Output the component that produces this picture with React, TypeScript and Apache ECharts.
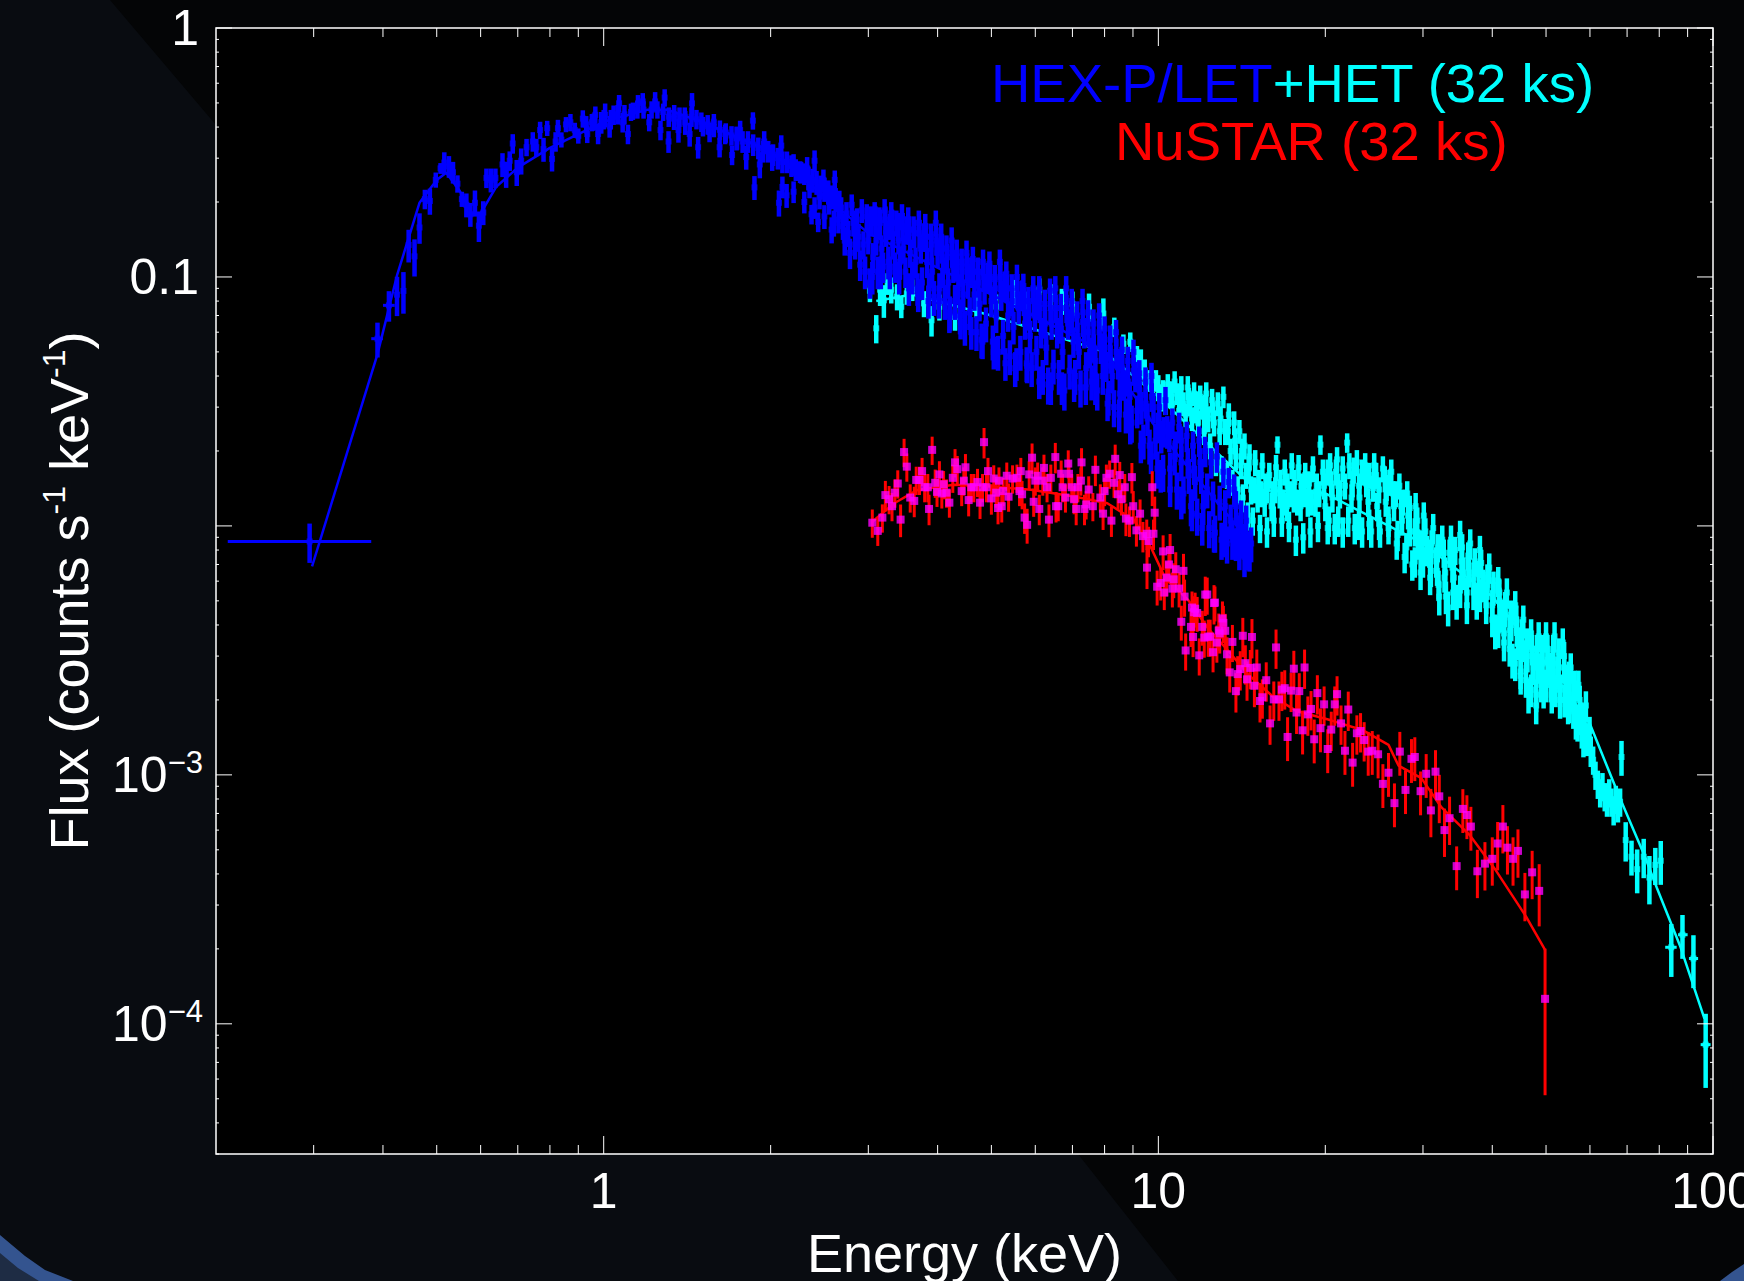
import React, { useEffect, useRef } from "react";
import * as echarts from "echarts";

const xMajorTicks = [1, 10, 100];
const xMinorTicks = [0.3, 0.4, 0.5, 0.6, 0.7, 0.8, 0.9, 2, 3, 4, 5, 6, 7, 8, 9, 20, 30, 40, 50, 60, 70, 80, 90];
const yMajorTicks = [1, 0.1, 0.01, 0.001, 0.0001];
const yMinorTicks = [0.9, 0.8, 0.7, 0.6, 0.5, 0.4, 0.3, 0.2, 0.09, 0.08, 0.07, 0.06, 0.05, 0.04, 0.03, 0.02, 0.009, 0.008, 0.007, 0.006, 0.005, 0.004, 0.003, 0.002, 0.0009, 0.0008, 0.0007, 0.0006, 0.0005, 0.0004, 0.0003, 0.0002, 0.00009, 0.00008, 0.00007, 0.00006, 0.00005, 0.00004, 0.00003];
const yTickLabels: Record<string, string> = { "0": "{p|1}", "-1": "{p|0.1}", "-3": "{b|10}{s|\u22123}", "-4": "{b|10}{s|\u22124}" };
const xTickLabels: Record<string, string> = { "0": "1", "1": "10", "2": "100" };

// [energy keV, flux, fractional error]
const letSoft = [
[.295,.00866,.18],[.391,.0565,.16],[.41,.0769,.14],[.424,.0849,.18],[.4355,.0879,.19],[.445,.1345,.15],[.456,.121,.17],[.4655,.158,.14],[.476,.2055,.09],[.486,.202,.12],[.498,.2455,.07],[.508,.273,.05],[.516,.288,.1],[.526,.278,.1],[.535,.2635,.1],[.545,.237,.08],[.555,.2055,.07],[.5655,.195,.11],[.575,.1786,.11],[.586,.1986,.12],[.5957,.1607,.14],[.6066,.1815,.11],[.6146,.25,.09],[.626,.2455,.11],[.638,.25,.09],[.657,.283,.11],[.667,.259,.12],[.677,.293,.09],[.6855,.3436,.09],[.697,.2635,.12],[.71,.293,.12],[.726,.332,.08],[.745,.35,.09],[.756,.332,.08],[.768,.389,.08],[.779,.326,.11],[.791,.396,.07],[.807,.298,.11],[.819,.35,.09],[.827,.396,.08],[.839,.356,.07],[.855,.41,.07],[.871,.418,.08],[.887,.389,.07],[.9,.369,.07],[.917,.4325,.08],[.934,.375,.08],[.952,.418,.08],[.966,.448,.08],[.977,.375,.09]
];
const letCore = [
[.99,.418,.1],[1.006,.448,.11],[1.025,.403,.1],[1.042,.448,.09],[1.066,.4983,.08],[1.082,.418,.09],[1.106,.375,.09],[1.129,.4645,.08],[1.153,.498,.08],[1.176,.507,.08],[1.208,.418,.08],[1.238,.507,.09],[1.266,.389,.09],[1.288,.5254,.08],[1.309,.35,.1],[1.339,.4325,.1],[1.364,.389,.11],[1.403,.418,.11],[1.429,.375,.11],[1.443,.498,.1],[1.48,.332,.1],[1.51,.403,.09],[1.552,.382,.09],[1.58,.418,.08],[1.618,.332,.09],[1.656,.375,.09],[1.704,.309,.09],[1.736,.362,.11],[1.762,.389,.09],[1.807,.303,.11],[1.858,.4246,.08],[1.87,.229,.11],[1.912,.283,.12],[1.947,.35,.1],[2.013,.303,.12],[2.07,.1986,.12],[2.09,.337,.1],[2.137,.2128,.11],[2.2,.283,.1],[2.27,.2635,.1],[2.327,.273,.11],[2.37,.1786,.09],[2.4,.293,.1],[2.436,.1663,.09],[2.49,.2455,.1],[2.576,.155,.12],[2.61,.2455,.09],
[.93,.41,.08],[.96,.42,.08],[1,.43,.09],[1.03,.43,.09],[1.06,.45,.09],[1.09,.45,.09],[1.12,.46,.08],[1.15,.47,.08],[1.18,.47,.08],[1.22,.47,.08],[1.25,.47,.08],[1.28,.46,.08],[1.31,.44,.09],[1.34,.45,.09],[1.37,.44,.09],[1.4,.44,.09],[1.44,.44,.09],[1.47,.43,.09],[1.5,.42,.09],[1.54,.41,.09],[1.58,.4,.09],[1.62,.39,.09],[1.66,.38,.09],[1.7,.37,.09],[1.74,.36,.1],[1.78,.35,.1],[1.82,.35,.1],[1.86,.34,.1],[1.9,.33,.1],[1.94,.32,.1],[1.98,.32,.1],[2.02,.31,.1],[2.06,.3,.1],[2.1,.29,.1],[2.14,.29,.1],[2.18,.28,.1],[2.22,.27,.1],[2.26,.265,.1],[2.3,.26,.1],[2.34,.25,.11],[2.38,.245,.11],[2.42,.24,.11],[2.46,.23,.11],[2.5,.225,.11],[2.54,.22,.11],[2.58,.21,.11],[2.62,.205,.11],[2.66,.2,.11],
[2.1,.23,.1],[2.2,.22,.1],[2.3,.2,.1],[2.35,.23,.1],[2.4,.19,.1],[2.45,.21,.11],[2.5,.175,.11],[2.55,.2,.11],[2.6,.165,.12],[2.65,.17,.12]
];
const letHard = [
[2.68,.19,.1],[2.7,.16,.12],[2.72,.14,.13],[2.74,.18,.11],[2.76,.15,.12],[2.78,.125,.14],[2.8,.195,.1],[2.82,.165,.12],[2.84,.135,.13],[2.86,.17,.11],[2.88,.145,.13],[2.9,.112,.14],[2.92,.185,.11],[2.94,.135,.13],[2.96,.105,.15],[2.98,.175,.12],[3,.14,.12],[3.02,.095,.14],[3.04,.165,.12],[3.06,.12,.14],[3.08,.18,.11],[3.1,.14,.13],[3.12,.105,.15],[3.14,.17,.12],[3.17,.13,.13],[3.19,.11,.14],[3.21,.185,.11],[3.23,.15,.12],[3.26,.115,.15],[3.28,.16,.12],
[3.3,.18,.11],[3.32,.135,.13],[3.35,.11,.14],[3.37,.165,.12],[3.4,.14,.12],[3.42,.115,.15],[3.45,.175,.12],[3.47,.13,.13],[3.5,.105,.14],[3.52,.155,.13],[3.54,.17,.12],[3.57,.125,.13],[3.6,.1,.15],[3.62,.155,.13],[3.65,.115,.14],[3.68,.09,.15],[3.7,.165,.12],[3.73,.13,.13],[3.75,.095,.15],[3.78,.145,.13],[3.8,.16,.12],[3.83,.115,.14],[3.86,.09,.15],[3.89,.145,.13],[3.91,.105,.14],[3.94,.083,.16],[3.97,.165,.12],[4,.125,.13],[4.03,.09,.15],
[4.06,.145,.13],[4.09,.105,.14],[4.12,.08,.16],[4.15,.13,.13],[4.18,.095,.14],[4.21,.072,.16],[4.24,.14,.13],[4.27,.11,.14],[4.3,.08,.16],[4.33,.125,.13],[4.36,.09,.14],[4.39,.07,.16],[4.42,.115,.13],[4.45,.085,.15],[4.48,.063,.16],[4.51,.125,.12],[4.54,.095,.14],[4.57,.072,.15],[4.6,.105,.14],[4.63,.118,.12],[4.66,.085,.14],[4.7,.06,.16],[4.73,.105,.14],[4.76,.078,.15],[4.8,.056,.16],[4.83,.115,.12],[4.86,.09,.14],[4.89,.065,.16],[4.93,.1,.14],
[4.96,.113,.12],[5,.08,.14],[5.03,.055,.16],[5.07,.098,.14],[5.1,.07,.15],[5.14,.05,.16],[5.18,.115,.12],[5.21,.085,.14],[5.25,.058,.16],[5.28,.092,.14],[5.32,.103,.12],[5.36,.07,.14],[5.4,.048,.16],[5.44,.09,.14],[5.48,.063,.15],[5.52,.043,.16],[5.56,.1,.12],[5.6,.075,.14],[5.64,.05,.16],[5.67,.085,.14],[5.71,.092,.12],[5.75,.065,.14],[5.79,.045,.16],[5.83,.08,.14],[5.87,.058,.15],[5.91,.043,.16],[5.95,.09,.12],[5.99,.07,.14],[6.03,.05,.16],[6.06,.078,.14],
[6.1,.09,.12],[6.15,.06,.14],[6.19,.04,.16],[6.24,.078,.14],[6.28,.052,.15],[6.33,.037,.17],[6.38,.088,.12],[6.42,.065,.14],[6.47,.044,.16],[6.52,.09,.12],[6.57,.06,.14],[6.62,.04,.16],[6.67,.075,.14],[6.72,.05,.15],[6.77,.035,.17],[6.82,.09,.12],[6.87,.065,.14],[6.92,.042,.16],[6.98,.08,.12],[7.03,.055,.14],[7.08,.04,.16],[7.14,.07,.14],[7.19,.05,.15],[7.24,.036,.17],[7.3,.08,.12],[7.35,.06,.14],[7.41,.043,.16],
[7.47,.072,.12],[7.53,.05,.14],[7.58,.038,.16],[7.64,.065,.14],[7.7,.046,.15],[7.76,.035,.17],[7.82,.07,.12],[7.88,.052,.14],[7.94,.04,.16],[8,.062,.12],[8.06,.044,.14],[8.13,.033,.16],[8.19,.056,.14],[8.26,.04,.15],[8.32,.03,.17],[8.39,.06,.12],[8.46,.045,.14],[8.52,.034,.16],[8.6,.051,.13],[8.67,.037,.14],[8.74,.028,.16],[8.81,.046,.14],[8.88,.033,.15],[8.95,.026,.17],[9.02,.05,.12],[9.09,.04,.14],
[9.16,.029,.15],[9.24,.041,.13],[9.32,.03,.15],[9.4,.022,.16],[9.48,.038,.14],[9.56,.027,.15],[9.64,.021,.16],[9.72,.04,.13],[9.8,.03,.14],[9.88,.022,.16],[9.96,.017,.17],[10.04,.03,.14],[10.12,.023,.15],[10.2,.0165,.17],[10.3,.032,.13],[10.38,.024,.15],[10.5,.017,.16],[10.6,.026,.14],[10.7,.019,.16],[10.8,.014,.17],[10.9,.025,.14],[11,.018,.16],[11.1,.0135,.17],
[11.25,.023,.14],[11.35,.016,.16],[11.45,.012,.17],[11.55,.021,.14],[11.65,.015,.16],[11.75,.011,.17],[11.85,.022,.14],[11.95,.016,.16],[12.05,.012,.16],[12.15,.02,.14],[12.25,.014,.16],[12.35,.0098,.17],[12.45,.018,.14],[12.55,.013,.16],[12.65,.0094,.17],[12.75,.019,.14],[12.9,.0125,.16],[13,.0088,.17],[13.1,.0165,.14],[13.2,.012,.16],[13.3,.0085,.17],[13.4,.015,.14],[13.5,.0105,.16],[13.6,.0088,.17],[13.7,.014,.15],
[13.8,.012,.15],[13.9,.0095,.16],[14,.008,.17],[14.1,.011,.15],[14.2,.0088,.16],[14.3,.0075,.17],[14.4,.0105,.15],[14.5,.0082,.16],[14.6,.0078,.16],[14.7,.0085,.16]
];
const letUpperFill = [
[3.03,.17,.13],[3.09,.17,.13],[3.15,.165,.13],[3.22,.17,.13],[3.31,.165,.13],[3.39,.16,.13],[3.46,.16,.13],[3.55,.155,.13],[3.63,.15,.13],[3.71,.15,.13],[3.81,.145,.13],[3.9,.135,.13],[3.98,.14,.13],[4.07,.13,.13],[4.16,.12,.13],[4.25,.125,.13],[4.34,.11,.13],[4.43,.105,.13],[4.52,.11,.13],[4.64,.105,.13],[4.74,.095,.13],[4.84,.1,.13],[4.97,.1,.13],[5.08,.09,.13],[5.19,.1,.13],[5.33,.09,.13],[5.45,.08,.13],[5.57,.085,.13],[5.72,.08,.13],[5.84,.07,.13],[5.96,.08,.13],[6.11,.075,.13],[6.25,.065,.13],[6.39,.075,.13],[6.53,.075,.13],[6.68,.062,.13],[6.83,.075,.13],[6.99,.068,.13],[7.15,.058,.13],[7.31,.066,.13],[7.48,.06,.13],[7.65,.052,.13],[7.83,.06,.13],[8.01,.052,.13],[8.2,.047,.13],[8.4,.05,.13],[8.61,.043,.13],[8.82,.038,.13],[9.03,.042,.13],[9.25,.035,.13],[9.49,.031,.13],[9.73,.033,.13],[9.97,.025,.14],[10.22,.024,.14],[10.47,.023,.14],[10.73,.021,.14],[11,.022,.14],[11.3,.018,.14],[11.6,.017,.14],[11.9,.018,.14]
];
const letLowerFill = [
[3.05,.1,.15],[3.16,.105,.15],[3.28,.105,.15],[3.41,.1,.15],[3.55,.09,.15],[3.69,.085,.15],[3.85,.08,.15],[4.02,.08,.15],[4.2,.07,.15],[4.4,.066,.15],[4.6,.06,.15],[4.82,.055,.15],[5.05,.05,.15],[5.3,.045,.15],[5.55,.045,.15],[5.8,.044,.15],[6.1,.038,.15],[6.4,.036,.15],[6.7,.036,.15],[7.05,.037,.15],[7.4,.036,.15],[7.7,.036,.15],[8.1,.031,.15],[8.5,.028,.15],[8.9,.025,.15],[9.3,.021,.15],[9.7,.019,.15],[10.1,.016,.15],[10.5,.014,.15],[11,.0125,.15],[11.5,.0112,.15],[12,.0098,.15],[12.6,.0092,.15],[13.2,.0088,.15],[13.8,.0085,.15],[14.4,.0078,.15]
];
const hetSoft = [
[3.02,.088,.1],[3.1,.0622,.13],[3.15,.0889,.14],[3.2,.0806,.15],[3.25,.0941,.1],[3.3,.0889,.12],[3.38,.0834,.12],[3.44,.0759,.1],[3.52,.0859,.1],[3.6,.0889,.1],[3.78,.0783,.12],[3.9,.067,.14],[4.03,.0759,.12],[4.3,.0691,.12],[4.7,.078,.12],[5.1,.076,.12],[5.5,.0862,.13],[5.8,.078,.12],[6.1,.0889,.11],[6.4,.0834,.12],[6.7,.08,.12],[7,.078,.12],[7.5,.0759,.13],[7.96,.0713,.15],[8.33,.063,.09],[8.65,.0539,.09],[8.9,.0549,.09],[9.15,.048,.1],[9.3,.0449,.14],[9.45,.042,.11],[9.65,.0384,.1],[9.9,.0384,.1]
];
const hetBand = [
[10,.036,.12],[10.1,.032,.1],[10.2,.035,.1],[10.3,.031,.1],[10.4,.037,.1],[10.5,.033,.1],[10.6,.031,.1],[10.7,.038,.1],[10.8,.034,.1],[10.9,.029,.1],[11,.036,.11],[11.1,.031,.11],[11.2,.028,.11],[11.3,.036,.11],[11.4,.031,.11],[11.5,.027,.11],[11.6,.034,.11],[11.7,.029,.11],[11.8,.026,.12],[11.9,.033,.11],[12,.03,.11],[12.1,.024,.12],[12.2,.034,.11],[12.3,.027,.12],[12.4,.021,.12],[12.5,.032,.11],[12.6,.026,.12],[12.7,.018,.12],[12.8,.031,.11],[12.9,.024,.12],[13,.017,.12],[13.1,.033,.1],[13.2,.024,.12],[13.3,.016,.12],[13.4,.028,.11],[13.5,.02,.12],[13.6,.015,.12],[13.7,.026,.11],[13.8,.019,.12],[13.9,.014,.13],[14,.024,.11],[14.1,.0175,.12],[14.2,.013,.13],[14.3,.021,.12],[14.4,.016,.12],[14.5,.011,.13],[14.6,.019,.12],[14.7,.014,.13],[14.8,.0105,.13],[14.95,.018,.12],[15.1,.013,.13],[15.25,.0098,.13],[15.4,.0175,.12],[15.55,.0125,.13],[15.7,.0095,.14],[15.85,.016,.12],[16,.012,.13],[16.15,.0105,.14],[16.3,.0172,.12],[16.4,.0212,.08],[16.55,.0135,.13],[16.7,.0105,.14],[16.9,.0165,.12],[17.05,.012,.13],[17.2,.01,.14],[17.4,.0175,.12],[17.55,.013,.13],[17.7,.0088,.14],[17.9,.0172,.12],[18.05,.012,.13],[18.25,.009,.14],[18.4,.016,.12],[18.6,.0125,.13],[18.8,.0095,.14],[19,.017,.12],[19.2,.0125,.13],[19.4,.01,.14],[19.6,.0212,.09],[19.8,.0165,.12],[20,.012,.13],[20.2,.0098,.14],[20.4,.0175,.12],[20.6,.013,.13],[20.8,.0098,.14],[21,.0185,.12],[21.25,.0135,.13],[21.5,.0095,.14],[21.9,.0216,.09],[22.1,.0175,.12],[22.3,.013,.13],[22.6,.0098,.14],[22.8,.018,.12],[23.05,.013,.13],[23.3,.0095,.14],[23.6,.0175,.12],[23.9,.0125,.13],[24.2,.0095,.14],[24.5,.0175,.12],[24.8,.012,.13],[25.1,.0095,.14],[25.4,.017,.12],[25.7,.0125,.13],[26,.0098,.14],[26.3,.0165,.12],[26.6,.012,.13],[26.9,.0085,.14],[27.2,.0145,.12],[27.5,.0105,.13],[27.8,.0075,.14],[28.1,.0135,.12],[28.4,.0095,.13],[28.7,.007,.14],[29.1,.012,.13],[29.4,.0085,.14],[29.7,.0065,.15]
];
const hetHard = [
[30.1,.011,.13],[30.5,.008,.14],[30.9,.0062,.15],[31.3,.0098,.14],[31.7,.0072,.14],[32.1,.0052,.16],[32.5,.0088,.14],[32.9,.0065,.15],[33.3,.0047,.16],[33.7,.0088,.14],[34.1,.0062,.15],[34.5,.005,.16],[35,.0092,.14],[35.5,.0065,.15],[36,.0048,.16],[36.5,.0085,.14],[37,.0062,.15],[37.5,.005,.16],[38,.008,.14],[38.5,.0058,.15],[39,.0048,.16],[39.5,.0068,.14],[40,.0048,.15],[40.5,.0038,.16],[41,.006,.14],[41.5,.0044,.15],[42,.0034,.16],[42.5,.0054,.14],[43,.0038,.15],[43.5,.0029,.16],[44,.0048,.14],[44.5,.0034,.15],[45,.0025,.16],[45.5,.0042,.14],[46,.003,.15],[46.5,.0021,.16],[47,.0037,.14],[47.5,.0027,.15],[48,.0019,.16],[48.5,.0036,.14],[49,.0026,.15],[49.5,.0022,.16],[50,.0036,.14],[50.6,.0027,.15],[51.2,.0021,.16],[51.8,.0036,.14],[52.4,.0026,.15],[53,.002,.16],[53.6,.0034,.14],[54.2,.0024,.15],[54.8,.0019,.16],[55.4,.0027,.14],[56,.0021,.15],[56.6,.00165,.16],[57.2,.0023,.14],[57.8,.0017,.15],[58.4,.0014,.16],[59,.0019,.14],[59.6,.0014,.15],[60.2,.00125,.14],[60.8,.00115,.13],[61.4,.001,.13],[62,.00092,.13],[62.6,.00085,.13],[63.2,.0009,.13],[63.8,.00082,.13],[64.4,.00078,.13],[65,.00085,.13],[65.6,.00078,.13],[66.2,.00072,.13],[66.8,.0008,.13],[67.4,.00074,.13],[68,.00078,.13],[68.4,.00118,.16],
[69.6,.000547,.18],[71.3,.000469,.16],[73,.000418,.2],[75,.000469,.18],[76.8,.000387,.22],[78.7,.000435,.17],[80.5,.000452,.2],[84.1,.000203,.24],[88.1,.000228,.2],[92.2,.000183,.24],[97,.0000825,.33]
];
const hetMidFill = [
[10.15,.033,.12],[10.55,.034,.12],[10.95,.033,.12],[11.35,.032,.12],[11.75,.031,.12],[12.15,.03,.12],[12.55,.028,.12],[12.95,.027,.12],[13.35,.024,.12],[13.75,.022,.12],[14.15,.02,.12],[14.55,.017,.12],[14.9,.014,.12],[15.3,.0135,.12],[15.7,.014,.12],[16.1,.0135,.12],[16.6,.015,.12],[17.1,.0145,.12],[17.6,.015,.12],[18.1,.0145,.12],[18.7,.0148,.12],[19.3,.0145,.12],[19.9,.0145,.12],[20.5,.0148,.12],[21.1,.0145,.12],[21.7,.0145,.12],[22.4,.0148,.12],[23,.0145,.12],[23.7,.0148,.12],[24.4,.0142,.12],[25,.014,.12],[25.8,.0143,.12],[26.5,.0135,.12],[27.4,.012,.12],[28.2,.011,.12],[29,.0095,.13],[29.9,.0085,.13],[30.8,.0078,.13],[31.8,.0066,.13],[32.8,.0062,.13],[33.9,.0068,.13],[35.2,.0072,.13],[36.3,.0065,.13],[37.8,.0064,.13],[39.2,.0058,.13],[40.2,.0055,.13],[41.2,.005,.13],[42.2,.0045,.13],[43.3,.004,.14],[44.3,.0038,.14],[45.3,.0033,.14],[46.3,.003,.14],[47.3,.0029,.14],[48.3,.0027,.14],[49.3,.0028,.14],[50.3,.0029,.14],[51.5,.0028,.14],[52.7,.0027,.14],[53.9,.0027,.14],[55,.0025,.14],[56.3,.0021,.14],[57.5,.002,.14],[58.7,.0017,.14],[59.9,.0015,.14]
];
const hetUpperFill = [
[15.15,.015,.12],[15.6,.0145,.12],[16.25,.014,.12],[16.8,.0125,.12],[17.3,.0135,.12],[17.8,.0125,.12],[18.3,.0135,.12],[18.9,.0125,.12],[19.5,.0135,.12],[20.2,.0165,.12],[20.9,.0165,.12],[21.5,.017,.12],[22.5,.0168,.12],[23.3,.0165,.12],[24,.016,.12],[24.7,.016,.12],[25.6,.0155,.12],[26.1,.015,.12],[26.8,.0135,.12],[27.6,.0125,.12],[28.4,.0118,.12],[29.3,.0105,.13],[30.3,.0095,.13],[31.1,.0085,.13],[31.9,.0082,.13],[32.7,.0078,.13],[33.5,.0078,.13],[34.3,.008,.13],[35.3,.0082,.13],[36.2,.0076,.13],[37.2,.0072,.13],[38.2,.0071,.13],[39.2,.0062,.13],[40.2,.0058,.13],[41.2,.0054,.13],[42.2,.0048,.13],[43.2,.0044,.14],[44.2,.0042,.14],[45.2,.0037,.14],[46.2,.0034,.14],[47.2,.0032,.14],[48.2,.0032,.14],[49.2,.0032,.14],[50.3,.0032,.14],[51.5,.0032,.14],[52.7,.0031,.14],[53.9,.003,.14],[55.1,.0024,.14],[56.3,.0023,.14]
];
const hetLowerFill = [
[20.3,.0105,.14],[21.1,.0105,.14],[22,.0105,.14],[23,.0102,.14],[24,.0102,.14],[25,.0102,.14],[26,.0105,.14],[27,.0092,.14],[28,.0082,.14],[29,.0072,.14],[30,.0072,.14],[31,.0066,.14],[32,.0058,.14],[33,.0052,.15],[34,.0054,.15],[35,.0055,.15],[36,.0054,.15],[37,.0054,.15],[38,.0053,.15],[39,.0052,.15],[40,.0042,.15],[41,.0038,.15],[42,.0037,.15],[43,.0032,.15],[44,.0028,.15],[45,.0026,.15],[46,.0024,.15],[47,.0022,.15],[48,.0021,.15],[49,.0023,.15],[50,.0023,.15],[51,.0023,.15],[52,.0022,.15],[53,.0022,.15],[54,.002,.15],[55,.0019,.15],[56,.0018,.15],[57,.0016,.15],[58,.0015,.15],[59,.0014,.15]
];
const nustarLow = [
[3.05,.0103,.13],[3.12,.00955,.13],[3.18,.0108,.13],[3.22,.0133,.14],[3.27,.0128,.13],[3.31,.012,.13],[3.35,.0136,.13],[3.39,.0148,.13],[3.43,.0106,.15],[3.48,.0198,.13],[3.52,.0173,.13],[3.57,.013,.13],[3.63,.0126,.14],[3.66,.0153,.13],[3.71,.0153,.13],[3.75,.0166,.13],[3.79,.0143,.13],[3.84,.0143,.13],[3.86,.0117,.14],[3.91,.0202,.13],[3.96,.0149,.13],[3.99,.0137,.13],[4.03,.0161,.13],[4.07,.0135,.13],[4.1,.0147,.13],[4.15,.0136,.13],[4.2,.0124,.13],[4.26,.0156,.13],[4.3,.018,.13],[4.34,.0169,.13],[4.42,.0138,.13],[4.46,.0152,.13],[4.49,.0172,.13],[4.55,.0127,.14],[4.6,.0143,.13],[4.65,.0143,.13],[4.72,.015,.13],[4.77,.0124,.14],[4.82,.0143,.13],[4.85,.0217,.14],[4.9,.0143,.13],[4.93,.0166,.13],[5,.0129,.14],[5.05,.0155,.13],[5.1,.0136,.13],[5.14,.0118,.14],[5.16,.0152,.13],[5.22,.012,.14],[5.25,.0138,.13],[5.33,.0159,.13],[5.37,.0131,.13],[5.46,.0155,.13],[5.56,.0156,.13],[5.62,.0138,.13],[5.65,.0166,.13],[5.68,.0134,.13],[5.74,.0108,.14],[5.8,.0101,.16],[5.85,.0161,.13],[5.92,.0188,.14],[5.96,.0125,.13],[6,.0152,.13],[6.06,.0159,.13],[6.1,.0117,.14],[6.19,.0152,.13],[6.22,.0171,.13],[6.3,.0143,.13],[6.35,.0106,.15],[6.4,.0156,.13],[6.52,.0189,.14],[6.54,.012,.14],[6.6,.012,.13],[6.68,.0162,.13],[6.72,.0143,.13],[6.8,.013,.13],[6.88,.0178,.13],[6.9,.0162,.13],[6.98,.0143,.13],[7.05,.0128,.13],[7.11,.0117,.14],[7.16,.0143,.13],[7.25,.0152,.13],[7.27,.018,.14],[7.36,.0117,.14],[7.41,.0122,.13],[7.49,.014,.13],[7.62,.012,.13],[7.7,.0168,.14],[7.86,.013,.13],[7.95,.0112,.14],[8,.0138,.13],[8.06,.0156,.13],[8.17,.0162,.13],[8.23,.0105,.14],[8.32,.0149,.13],[8.36,.0186,.14],[8.46,.0134,.13],[8.52,.016,.13],[8.58,.0128,.14],[8.7,.0143,.13],[8.74,.0107,.15],[8.87,.0105,.14],[8.96,.0157,.14],[9.01,.012,.15],[9.13,.0096,.14],[9.27,.0112,.14],[9.38,.0091,.14],[9.53,.0093,.14],[9.54,.0068,.18],[9.6,.0087,.14],[9.75,.0143,.16],[9.8,.0093,.14],[9.85,.0113,.16]
];
const nustarMid = [
[9.95,.0057,.16],[10.1,.0059,.15],[10.2,.0079,.16],[10.25,.0054,.15],[10.35,.0062,.16],[10.45,.007,.16],[10.5,.008,.16],[10.6,.0056,.16],[10.66,.0061,.16],[10.75,.0067,.17],[10.9,.0056,.16],[11,.00412,.16],[11.1,.0066,.17],[11.15,.0052,.17],[11.2,.00316,.17],[11.45,.00393,.17],[11.5,.0047,.16],[11.55,.00358,.17],[11.6,.0045,.16],[11.65,.00465,.16],[11.75,.00447,.16],[11.85,.00302,.17],[12,.00393,.16],[12.1,.00356,.17],[12.15,.0053,.18],[12.25,.0053,.17],[12.3,.00359,.17],[12.4,.00359,.17],[12.55,.00311,.17],[12.6,.0049,.18],[12.65,.00492,.16],[12.75,.0034,.17],[12.85,.0038,.17],[12.9,.0037,.17],[13.05,.00425,.17],[13.1,.00408,.17],[13.2,.00379,.17],[13.3,.00305,.17],[13.45,.00258,.17],[13.6,.00342,.17],[13.8,.00217,.18],[13.9,.00254,.18],[14.05,.00266,.18],[14.2,.00362,.18],[14.35,.00281,.18],[14.45,.00242,.18],[14.65,.00269,.18],[14.75,.00358,.18],[14.9,.00228,.18],[15.05,.0027,.18],[15.25,.00198,.18],[15.4,.00205,.18],[15.65,.0024,.18],[15.9,.00161,.18],[16.15,.00201,.18],[16.3,.00325,.18],[16.5,.00201,.18],[16.7,.0022,.18],[16.9,.00223,.18],[17.1,.00142,.2],[17.35,.00218,.18],[17.55,.00267,.18],[17.75,.00178,.18],[17.95,.00217,.18],[18.2,.00151,.2],[18.35,.0027,.18],[18.6,.00175,.18],[18.85,.00184,.18],[19.1,.00139,.2],[19.35,.00213,.18],[19.6,.00154,.2],[19.9,.00192,.18],[20.2,.00127,.2]
];
const nustarHigh = [
[20.5,.00152,.18],[20.8,.00192,.18],[21,.00211,.18],[21.35,.00161,.18],[21.7,.00125,.2],[22,.00183,.18],[22.4,.00112,.2],[22.8,.00147,.18],[23.15,.0015,.18],[23.5,.00138,.18],[23.9,.00124,.2],[24.3,.00125,.2],[24.9,.00121,.2],[25.4,.00092,.2],[26,.00102,.2],[26.65,.00077,.2],[27.25,.00124,.2],[27.9,.00087,.2],[28.6,.00116,.2],[29,.00118,.2],[29.7,.00086,.2],[30.4,.00101,.2],[31,.00072,.22],[31.6,.00103,.22],[32.1,.00082,.22],[32.8,.0006,.22],[33.5,.00067,.22],[34.5,.00043,.2],[35.4,.00073,.2],[36,.00069,.2],[36.6,.00062,.2],[37.6,.00041,.22],[38.8,.00044,.22],[40,.00046,.22],[40.9,.00053,.22],[41.8,.00062,.22],[42.6,.00051,.22],[43.6,.00046,.22],[44.5,.000495,.22],[45.8,.000331,.22],[47.2,.000406,.22],[48.6,.000342,.28],[49.8,.000126,.59]
];
// [energy, flux, lower energy edge, upper energy edge]
const letWideBins = [[.295,.00866,.21,.381],[.391,.0565,.381,.4],[.41,.0769,.4,.42]];
const hetWideBins = [[84.1,.000203,82,86],[88.1,.000228,86.5,90],[92.2,.000183,90.5,94],[97,.0000825,95,99]];

const letModel = [[.298,.00688],[.391,.049],[.424,.1014],[.4655,.1986],[.5,.245],[.52,.262],[.55,.222],[.58,.178],[.6,.18],[.64,.23],[.7,.275],[.8,.33],[1,.42],[1.2,.47],[1.3,.47],[1.5,.42],[2,.32],[3,.15],[5,.085],[8,.05],[10,.024],[14.7,.0085]];
const hetModel = [[3.1,.08],[3.6,.085],[5,.07],[8,.05],[10,.033],[15,.014],[20,.0135],[30,.0085],[40,.0052],[50,.0028],[60,.0016],[68,.000803],[75.4,.000469],[79.2,.000352],[87.2,.000206],[96.5,.000105]];
const nustarModel = [[3.05,.0104],[3.34,.01233],[3.68,.01395],[4.28,.01462],[4.99,.0144],[5.89,.01396],[7.05,.01312],[8.09,.01233],[9.04,.01057],[9.68,.00826],[10.3,.00614],[11.3,.00506],[12.3,.00387],[13.4,.00313],[14.5,.00254],[16.1,.00206],[17.8,.0018],[20.4,.00166],[23.4,.00151],[26,.00132],[27.1,.00109],[29.8,.00097],[32.4,.00074],[36.5,.00057],[40.4,.00042],[46,.00027],[49.8,.000198]];

const letRows = [...letSoft, ...letCore, ...letHard, ...letUpperFill, ...letLowerFill];
const hetRows = [...hetSoft, ...hetBand, ...hetMidFill, ...hetUpperFill, ...hetLowerFill, ...hetHard];
const nustarRows = [...nustarLow, ...nustarMid, ...nustarHigh];

const BLUE = "#0000ff", CYAN = "#00ffff", RED = "#ff0000", MAGENTA = "#ff00ff";
const FONT = "'Liberation Sans', Helvetica, Arial, sans-serif";

const errorBars = (rows: number[][], color: string, lineWidth: number, z: number) => ({
  type: "custom", silent: true, z, data: rows, encode: { x: 0, y: 1 }, clip: true,
  renderItem: (_p: any, api: any) => {
    const e = api.value(0), f = api.value(1), r = api.value(2);
    const a = api.coord([e, f * (1 + r)]), b = api.coord([e, f * (1 - r)]);
    return { type: "line", shape: { x1: a[0], y1: a[1], x2: b[0], y2: b[1] }, style: { stroke: color, lineWidth } };
  },
});
const wideBins = (rows: number[][], color: string, lineWidth: number, z: number) => ({
  type: "custom", silent: true, z, data: rows, encode: { x: 0, y: 1 }, clip: true,
  renderItem: (_p: any, api: any) => {
    const f = api.value(1);
    const a = api.coord([api.value(2), f]), b = api.coord([api.value(3), f]);
    return { type: "line", shape: { x1: a[0], y1: a[1], x2: b[0], y2: b[1] }, style: { stroke: color, lineWidth } };
  },
});
const markers = (rows: number[][], color: string, size: number, z: number) => ({
  type: "scatter", silent: true, z, data: rows.map((r) => [r[0], r[1]]), symbol: "rect", symbolSize: size,
  itemStyle: { color }, clip: true,
});
const model = (rows: number[][], color: string, width: number, z: number) => ({
  type: "line", silent: true, z, data: rows, showSymbol: false, symbol: "none", lineStyle: { color, width }, clip: true,
});
const xTicks = (vals: number[], len: number) => ({
  type: "custom", silent: true, z: 12, data: vals.map((v) => [v, 0.5]), encode: { x: 0, y: 1 }, clip: false,
  renderItem: (p: any, api: any) => {
    const x = api.coord([api.value(0), 0.5])[0], c = p.coordSys;
    const style = { stroke: "#fff", lineWidth: 1 };
    return { type: "group", children: [
      { type: "line", shape: { x1: x, y1: c.y, x2: x, y2: c.y + len }, style },
      { type: "line", shape: { x1: x, y1: c.y + c.height, x2: x, y2: c.y + c.height - len }, style },
    ] };
  },
});
const yTicks = (vals: number[], len: number) => ({
  type: "custom", silent: true, z: 12, data: vals.map((v) => [1, v]), encode: { x: 0, y: 1 }, clip: false,
  renderItem: (p: any, api: any) => {
    const y = api.coord([1, api.value(1)])[1], c = p.coordSys;
    const style = { stroke: "#fff", lineWidth: 1 };
    return { type: "group", children: [
      { type: "line", shape: { x1: c.x, y1: y, x2: c.x + len, y2: y }, style },
      { type: "line", shape: { x1: c.x + c.width, y1: y, x2: c.x + c.width - len, y2: y }, style },
    ] };
  },
});
const decadeLabel = (table: Record<string, string>) => (v: number) => {
  const l = Math.log10(v), n = Math.round(l);
  return Math.abs(l - n) < 1e-6 ? table[String(n)] ?? "" : "";
};
const bg = (points: number[][], fill: string) => ({ type: "polygon", z: -10, silent: true, shape: { points }, style: { fill } });

export default function App() {
  const ref = useRef<HTMLDivElement>(null);
  useEffect(() => {
    document.body.style.margin = "0";
    const chart = echarts.init(ref.current!, null, { renderer: "svg" });
    chart.setOption({
      animation: false,
      backgroundColor: "#040506",
      textStyle: { fontFamily: FONT },
      graphic: [
        bg([[0, 0], [110, 0], [216, 125], [216, 1154], [1078, 1154], [1178, 1281], [0, 1281]], "#090c11"),
        bg([[0, 1235], [25, 1256], [45, 1270], [73, 1281], [0, 1281]], "#34548f"),
        bg([[0, 1253], [18, 1268], [39, 1281], [0, 1281]], "#1e2c44"),
        bg([[1744, 1264], [1732, 1272], [1720, 1281], [1744, 1281]], "#34548f"),
      ],
      title: [
        {
          text: "{a|HEX-P/LET}{b|+HET (32 ks)}", left: 991, top: 56, padding: 0,
          textStyle: { rich: {
            a: { color: BLUE, fontSize: 54.5, fontFamily: FONT, fontWeight: "normal" },
            b: { color: CYAN, fontSize: 54.5, fontFamily: FONT, fontWeight: "normal" },
          } },
        },
        {
          text: "NuSTAR (32 ks)", left: 1115, top: 114, padding: 0,
          textStyle: { color: RED, fontSize: 54.5, fontWeight: "normal", fontFamily: FONT },
        },
      ],
      grid: { left: 216, top: 28, width: 1497, height: 1126, show: true, backgroundColor: "#000", borderColor: "#fff", borderWidth: 1.5, outerBoundsMode: "none", containLabel: false },
      xAxis: {
        type: "log", min: 0.2, max: 100, logBase: 10,
        name: "Energy (keV)", nameLocation: "middle", nameGap: 72,
        nameTextStyle: { color: "#fff", fontSize: 54, fontFamily: FONT },
        axisLine: { show: false }, axisTick: { show: false }, splitLine: { show: false }, minorTick: { show: false },
        axisLabel: { color: "#fff", fontSize: 50, fontFamily: FONT, margin: 12, showMinLabel: true, showMaxLabel: true, hideOverlap: false, formatter: decadeLabel(xTickLabels) },
      },
      yAxis: {
        type: "log", min: 0.00003, max: 1, logBase: 10,
        name: "{n|Flux (counts s}{s|-1}{n| keV}{s|-1}{n|)}", nameLocation: "middle", nameGap: 116, nameRotate: 90,
        nameTextStyle: { rich: {
          n: { color: "#fff", fontSize: 54, fontFamily: FONT, lineHeight: 62 },
          s: { color: "#fff", fontSize: 32, fontFamily: FONT, lineHeight: 62, verticalAlign: "top" },
        } },
        axisLine: { show: false }, axisTick: { show: false }, splitLine: { show: false }, minorTick: { show: false },
        axisLabel: {
          color: "#fff", fontSize: 50, fontFamily: FONT, margin: 13, showMinLabel: true, showMaxLabel: true, hideOverlap: false,
          formatter: decadeLabel(yTickLabels),
          rich: {
            p: { color: "#fff", fontSize: 50, fontFamily: FONT, padding: [0, 4, 0, 0] },
            b: { color: "#fff", fontSize: 50, fontFamily: FONT, lineHeight: 56 },
            s: { color: "#fff", fontSize: 31, fontFamily: FONT, lineHeight: 56, verticalAlign: "top" },
          },
        },
      },
      series: [
        errorBars(hetRows, CYAN, 4.5, 2), markers(hetRows, CYAN, 6, 3), wideBins(hetWideBins, CYAN, 3, 3), model(hetModel, CYAN, 2.5, 3),
        errorBars(letRows, BLUE, 4.5, 4), markers(letRows, BLUE, 6, 5), wideBins(letWideBins, BLUE, 3, 5), model(letModel, BLUE, 2.5, 5),
        errorBars(nustarRows, RED, 3, 6), model(nustarModel, RED, 2.5, 7), markers(nustarRows, MAGENTA, 8, 8),
        xTicks(xMajorTicks, 18), xTicks(xMinorTicks, 9), yTicks(yMajorTicks, 16), yTicks(yMinorTicks, 3),
      ],
    });
    return () => chart.dispose();
  }, []);
  return <div ref={ref} style={{ position: "absolute", left: 0, top: 0, width: 1744, height: 1281, overflow: "hidden" }} />;
}
